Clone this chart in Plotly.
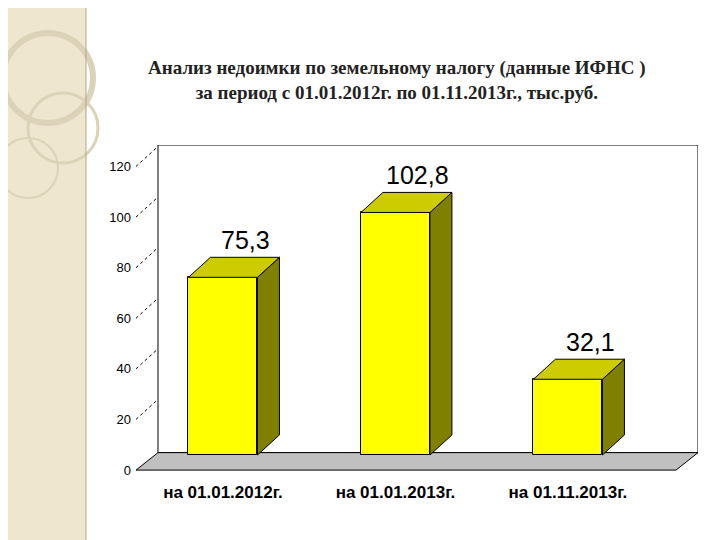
import plotly.graph_objects as go

categories = ["на 01.01.2012г.", "на 01.01.2013г.", "на 01.11.2013г."]
values = [75.3, 102.8, 32.1]
labels = ["75,3", "102,8", "32,1"]
yticks = [0, 20, 40, 60, 80, 100, 120]

W, H = 720, 540
L, R, T, B = 128, 30, 137, 70
xr = [-0.504, 2.754]
yr = [-9.75, 131.4]
bw = 0.4
dx, dy = 0.1275, 8.5
# tick labels sit on the front (left) plane of the 3D box, slightly offset from bar scale
tickpos = [(-15 + 2.53 * t) / 2.36 for t in yticks]

def px(x):
    return (x - L) / (W - L - R)
def py(y):
    return (H - B - y) / (H - T - B)

fig = go.Figure()
fig.add_shape(type="rect", xref="x", yref="y", x0=xr[0]+dx, x1=xr[1], y0=1, y1=yr[1],
              line=dict(color="black", width=1), fillcolor="white", layer="below")
fig.add_shape(type="path", xref="x", yref="y",
              path=f"M {xr[0]},-6.4 L {xr[0]+dx},1 L {xr[1]},1 L {xr[1]-dx},-6.4 Z",
              fillcolor="#C0C0C0", line=dict(color="black", width=1), layer="below")
for tp in tickpos[1:]:
    fig.add_shape(type="line", xref="x", yref="y", x0=xr[0], x1=xr[0]+dx, y0=tp, y1=tp+dy,
                  line=dict(color="black", width=1, dash="dot"))

for i, v in enumerate(values):
    x0, x1 = i - bw/2, i + bw/2
    fig.add_trace(go.Scatter(x=[x1, x1+dx, x1+dx, x1, x1], y=[0, dy, v+dy, v, 0], fill="toself",
                             fillcolor="#808000", line=dict(color="black", width=1), mode="lines",
                             hoverinfo="skip", showlegend=False))
    fig.add_trace(go.Scatter(x=[x0, x1, x1+dx, x0+dx, x0], y=[v, v, v+dy, v+dy, v], fill="toself",
                             fillcolor="#CCCC00", line=dict(color="black", width=1), mode="lines",
                             hoverinfo="skip", showlegend=False))
    fig.add_trace(go.Bar(x=[i], y=[v], width=bw, marker=dict(color="#FFFF00", line=dict(color="black", width=1)),
                         hoverinfo="skip", showlegend=False))
    fig.add_annotation(x=i + 0.13, y=v + dy + 0.5, text=labels[i], showarrow=False, yanchor="bottom",
                       font=dict(family="Liberation Sans, Arial", size=25, color="black"))

fig.add_shape(type="rect", xref="paper", yref="paper", x0=px(0), x1=px(78), y0=py(0), y1=py(540),
              fillcolor="#EFE6CF", line=dict(width=0), layer="below")
fig.add_shape(type="line", xref="paper", yref="paper", x0=px(78), x1=px(78), y0=py(0), y1=py(540),
              line=dict(color="#B0A58A", width=1))
for cx, cy, r, w in [(40, 70, 45, 6), (55, 120, 35, 3), (20, 160, 30, 2)]:
    fig.add_shape(type="circle", xref="paper", yref="paper", x0=px(cx-r), x1=px(cx+r), y0=py(cy+r), y1=py(cy-r),
                  line=dict(color="#DCD2B8", width=w), layer="below")

fig.update_layout(
    width=W, height=H, margin=dict(l=L, r=R, t=T, b=B),
    paper_bgcolor="white", plot_bgcolor="rgba(0,0,0,0)", bargap=0,
    title=dict(text="<b>Анализ недоимки по земельному налогу (данные ИФНС )<br>за период с 01.01.2012г. по 01.11.2013г., тыс.руб.</b>",
               x=0.54, xanchor="center", y=0.878, yanchor="middle",
               font=dict(family="Liberation Serif, Times New Roman", size=19, color="#222")),
    xaxis=dict(range=xr, tickvals=[0, 1, 2], ticktext=categories, showgrid=False, zeroline=False,
               showline=False, ticks="", tickfont=dict(family="Liberation Sans, Arial", size=17, color="black",
                                                        weight="bold"),
               ticklabelstandoff=2),
    yaxis=dict(range=yr, tickvals=tickpos, ticktext=[str(t) for t in yticks], showgrid=False, zeroline=False,
               showline=False, ticks="",
               tickfont=dict(family="Liberation Sans, Arial", size=13, color="black"), ticklabelstandoff=4),
)
fig.write_html("out.html")
